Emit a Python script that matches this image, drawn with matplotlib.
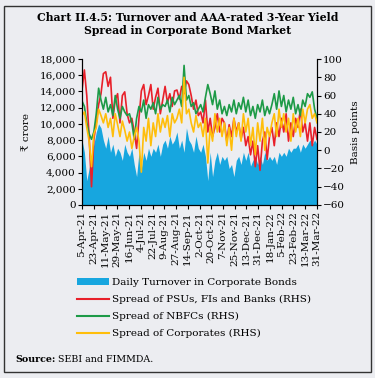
import numpy as np
import pandas as pd
import matplotlib
matplotlib.use("Agg")
import matplotlib.pyplot as plt
from matplotlib.patches import Patch, Rectangle
from matplotlib.lines import Line2D

plt.rcParams["font.family"] = ["DejaVu Serif", "DejaVu Sans"]

# daily turnover in corporate bonds (Rs crore), sampled roughly every 3-4 days
turnover = [8000, 6500, 3000, 4500, 6000, 7500, 9000, 10000, 9500, 8000,
            7000, 8500, 6500, 7500, 6000, 7000, 6500, 5500, 7500, 6500,
            6000, 7000, 5000, 3500, 6500, 4500, 6500, 5500, 7000, 6000,
            7000, 6500, 7500, 6000, 7500, 8000, 7000, 8500, 7500, 8000,
            9000, 7000, 8000, 6500, 9500, 8000, 7500, 6500, 8500, 7000,
            6500, 7500, 6000, 3000, 6500, 3500, 5500, 6500, 5000, 6000,
            5500, 6000, 4500, 5000, 3500, 5500, 6000, 5000, 6500, 5500,
            6500, 4800, 5500, 6000, 5000, 6000, 5000, 6500, 5500, 6000,
            5500, 6000, 5000, 6500, 6000, 6500, 6000, 7000, 6500, 7000,
            7000, 7500, 6500, 7500, 7000, 7500, 8000, 7500, 8000, 7500]

# spreads (basis points)
psu = [66, 88, 60, 15, -40, 12, 30, 50, 62, 84,
       86, 70, 80, 35, 55, 62, 30, 60, 64, 40,
       30, 35, 20, 2, 35, 65, 72, 50, 60, 72,
       45, 58, 68, 40, 55, 70, 52, 62, 48, 65,
       66, 56, 70, 62, 76, 72, 60, 45, 55, 38,
       42, 30, 55, 20, 35, 15, 25, 40, 20, 35,
       30, 10, 28, 15, 35, 20, 30, 12, 25, 5,
       15, -5, 10, -18, 5, -22, 10, 20, -10, 15,
       25, 5, 30, 15, 35, 20, 40, 10, 30, 15,
       35, 25, 45, 20, 30, 10, 30, 5, 25, 12]

nbfc = [54, 48, 30, 18, 12, 20, 40, 68, 55, 45,
        58, 42, 50, 38, 60, 45, 35, 48, 42, 38,
        40, 30, 12, 35, 48, 42, 55, 35, 50, 45,
        52, 40, 58, 45, 50, 48, 55, 42, 58, 50,
        55, 60, 48, 93, 55, 60, 48, 52, 40, 45,
        50, 42, 58, 72, 62, 50, 65, 45, 55, 40,
        48, 38, 50, 42, 55, 40, 52, 45, 58, 42,
        55, 38, 48, 35, 50, 42, 55, 38, 48, 40,
        50, 62, 45, 65, 48, 60, 42, 55, 45, 58,
        40, 50, 38, 55, 48, 62, 58, 64, 45, 35]

corp = [38, 42, 25, 10, -18, 18, 25, 45, 38, 30,
        40, 25, 35, 15, 40, 28, 15, 32, 22, 10,
        20, 2, 15, 25, 10, -24, 25, 10, 35, 5,
        30, 15, 40, 20, 35, 25, 38, 15, 40, 30,
        35, 45, 30, 80, 40, 45, 30, 20, 38, 25,
        30, 15, 35, -14, 25, 10, 40, 20, 35, 15,
        30, 5, 25, 0, 35, 15, 30, 10, 40, 20,
        35, 5, 25, -5, 30, 10, 35, 0, 25, 15,
        30, 40, 15, 45, 25, 40, 20, 35, 10, 40,
        20, 35, 15, 45, 30, 45, 50, 35, 40, 30]

tick_labels = ["5-Apr-21", "23-Apr-21", "11-May-21", "29-May-21", "16-Jun-21",
               "4-Jul-21", "22-Jul-21", "9-Aug-21", "27-Aug-21", "14-Sep-21",
               "2-Oct-21", "20-Oct-21", "7-Nov-21", "25-Nov-21", "13-Dec-21",
               "31-Dec-21", "18-Jan-22", "5-Feb-22", "23-Feb-22", "13-Mar-22",
               "31-Mar-22"]

dates = pd.date_range("2021-04-05", "2022-03-31", periods=len(turnover))
tick_dates = pd.to_datetime(tick_labels, format="%d-%b-%y")

blue = "#17A6DF"
red = "#E8202A"
green = "#1D9A47"
orange = "#FFBE0A"
bg = "#ECEDF1"

fig = plt.figure(figsize=(3.75, 3.78), dpi=100, facecolor=bg)
fig.patches.append(Rectangle((0.011, 0.015), 0.978, 0.97, transform=fig.transFigure,
                             fill=False, edgecolor="#333333", linewidth=1.0))

fig.text(0.5, 0.955, "Chart II.4.5: Turnover and AAA-rated 3-Year Yield",
         ha="center", va="center", fontsize=7.8, fontweight="bold")
fig.text(0.5, 0.920, "Spread in Corporate Bond Market",
         ha="center", va="center", fontsize=7.8, fontweight="bold")

ax = fig.add_axes([0.2187, 0.4577, 0.6266, 0.3862])
ax.set_facecolor(bg)
ax.fill_between(dates, turnover, 0, color=blue, linewidth=0)
ax.set_ylim(0, 18000)
ax.set_yticks(np.arange(0, 18001, 2000))
ax.set_yticklabels([f"{v:,}" for v in range(0, 18001, 2000)])
ax.set_xlim(dates[0], dates[-1])
ax.set_xticks(tick_dates)
ax.set_xticklabels(tick_labels, rotation=90)
ax.set_ylabel("₹ crore", fontsize=7.5, labelpad=6)

ax2 = ax.twinx()
ax2.plot(dates, psu, color=red, linewidth=1.2)
ax2.plot(dates, nbfc, color=green, linewidth=1.2)
ax2.plot(dates, corp, color=orange, linewidth=1.2)
ax2.set_ylim(-60, 100)
ax2.set_yticks(np.arange(-60, 101, 20))
ax2.set_ylabel("Basis points", fontsize=7.5, labelpad=4)

for a in (ax, ax2):
    a.spines["top"].set_visible(False)
    a.tick_params(labelsize=7.5, length=3, width=0.8, pad=1.5)
    for s in a.spines.values():
        s.set_linewidth(0.8)

handles = [Patch(facecolor=blue, edgecolor="none"),
           Line2D([], [], color=red, linewidth=1.5),
           Line2D([], [], color=green, linewidth=1.5),
           Line2D([], [], color=orange, linewidth=1.5)]
labels = ["Daily Turnover in Corporate Bonds",
          "Spread of PSUs, FIs and Banks (RHS)",
          "Spread of NBFCs (RHS)",
          "Spread of Corporates (RHS)"]
fig.legend(handles, labels, loc="upper left", bbox_to_anchor=(0.195, 0.275),
           frameon=False, fontsize=7.5, handlelength=3.0, handleheight=0.6,
           labelspacing=0.75, handletextpad=0.3, borderaxespad=0)

# source note: bold label followed by plain text
src = fig.text(0.04, 0.048, "Source:", fontsize=6.8, fontweight="bold", va="center")
ax.annotate(" SEBI and FIMMDA.", xy=(1, 0.5), xycoords=src, va="center",
            ha="left", fontsize=6.8, annotation_clip=False)

fig.savefig("out.png", dpi=100, facecolor=bg)
